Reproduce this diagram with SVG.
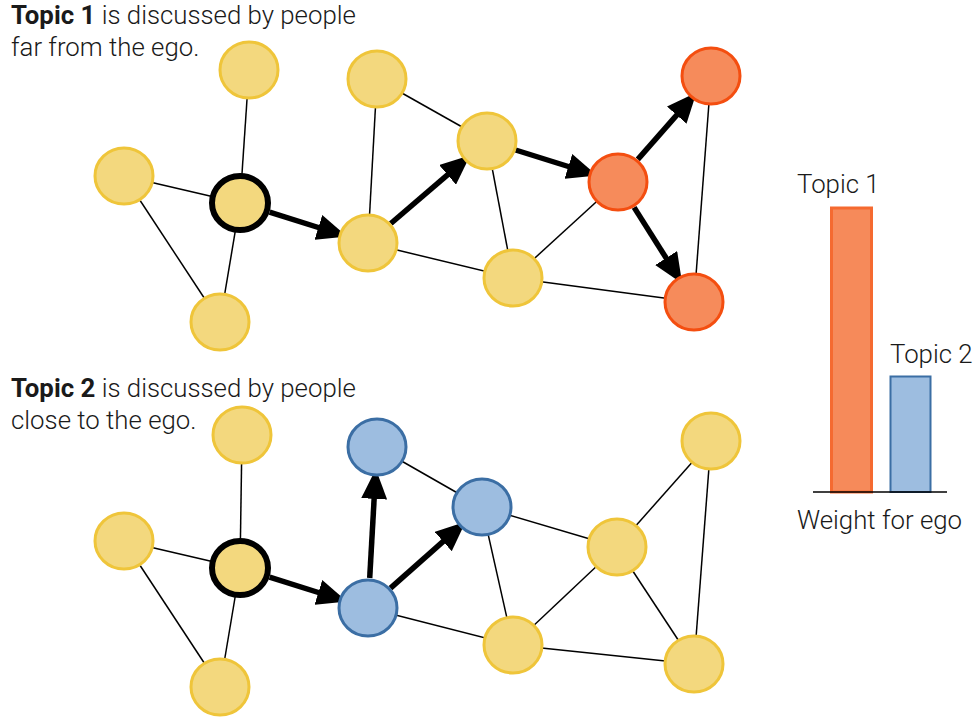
<svg xmlns="http://www.w3.org/2000/svg" width="978" height="719" viewBox="0 0 978 719">
<style>
.t{font-family:Roboto,"Liberation Sans",sans-serif;font-weight:300;font-size:25.8px;fill:#1a1a1a}
.b{font-weight:700}
.e{stroke:#000;stroke-width:1.5;fill:none}
.a{stroke:#000;stroke-width:5.5;fill:none;marker-end:url(#ah)}
.y{fill:#F3D87E;stroke:#EFC53A;stroke-width:3}
.o{fill:#F68B5B;stroke:#F44E10;stroke-width:3}
.u{fill:#9DBDE0;stroke:#3B6EA4;stroke-width:3}
.g{fill:#F3D87E;stroke:#000;stroke-width:6}
</style>
<defs>
<marker id="ah" markerWidth="32" markerHeight="26" refX="10" refY="13" orient="auto" markerUnits="userSpaceOnUse"><path d="M0,0 L30,13 L0,26 z" fill="#000"/></marker>
</defs>
<rect width="978" height="719" fill="#fff"/>
<g id="labels">
<text class="t" x="11" y="24"><tspan class="b">Topic 1</tspan> is discussed by people</text>
<text class="t" x="11" y="56">far from the ego.</text>
<text class="t" x="11" y="397"><tspan class="b">Topic 2</tspan> is discussed by people</text>
<text class="t" x="11" y="429">close to the ego.</text>
</g>
<g id="connectors">
<line class="e" x1="249" y1="70" x2="240" y2="203"/>
<line class="e" x1="124" y1="176" x2="240" y2="203"/>
<line class="e" x1="124" y1="176" x2="220" y2="322"/>
<line class="e" x1="240" y1="203" x2="220" y2="322"/>
<line class="e" x1="377" y1="79" x2="368" y2="243"/>
<line class="e" x1="377" y1="79" x2="487" y2="141"/>
<line class="e" x1="368" y1="243" x2="513" y2="278"/>
<line class="e" x1="487" y1="141" x2="513" y2="278"/>
<line class="e" x1="513" y1="278" x2="618" y2="182"/>
<line class="e" x1="513" y1="278" x2="694" y2="302"/>
<line class="e" x1="711" y1="76" x2="694" y2="302"/>
<line class="a" x1="269.6" y1="212.2" x2="327.9" y2="230.5"/>
<line class="a" x1="390.8" y1="223.5" x2="455.1" y2="168.3"/>
<line class="a" x1="515.6" y1="150" x2="577.9" y2="169.5"/>
<line class="a" x1="637.8" y1="159.4" x2="683.3" y2="107.6"/>
<line class="a" x1="634.1" y1="207.4" x2="671.5" y2="266.5"/>
<line class="e" x1="242" y1="435" x2="240" y2="568"/>
<line class="e" x1="124" y1="541" x2="240" y2="568"/>
<line class="e" x1="124" y1="541" x2="220" y2="687"/>
<line class="e" x1="240" y1="568" x2="220" y2="687"/>
<line class="e" x1="377" y1="447" x2="482" y2="507"/>
<line class="e" x1="368" y1="608" x2="513" y2="645"/>
<line class="e" x1="482" y1="507" x2="513" y2="645"/>
<line class="e" x1="482" y1="507" x2="617" y2="547"/>
<line class="e" x1="513" y1="645" x2="617" y2="547"/>
<line class="e" x1="513" y1="645" x2="694" y2="664"/>
<line class="e" x1="617" y1="547" x2="711" y2="441"/>
<line class="e" x1="617" y1="547" x2="694" y2="664"/>
<line class="e" x1="711" y1="441" x2="694" y2="664"/>
<line class="a" x1="269.6" y1="577.2" x2="327.9" y2="595.5"/>
<line class="a" x1="369.7" y1="578" x2="374.7" y2="488.9"/>
<line class="a" x1="390.5" y1="588.1" x2="450.6" y2="534.9"/>
</g>
<g id="n1A"><ellipse class="y" cx="249" cy="70" rx="29" ry="28"/></g>
<g id="n1B"><ellipse class="y" cx="124" cy="176" rx="29" ry="28"/></g>
<g id="n1ego"><ellipse class="g" cx="240" cy="203" rx="28" ry="27"/></g>
<g id="n1C"><ellipse class="y" cx="220" cy="322" rx="29" ry="28"/></g>
<g id="n1D"><ellipse class="y" cx="377" cy="79" rx="29" ry="28"/></g>
<g id="n1E"><ellipse class="y" cx="368" cy="243" rx="29" ry="28"/></g>
<g id="n1F"><ellipse class="y" cx="487" cy="141" rx="29" ry="28"/></g>
<g id="n1G"><ellipse class="y" cx="513" cy="278" rx="29" ry="28"/></g>
<g id="n1H"><ellipse class="o" cx="618" cy="182" rx="29" ry="28"/></g>
<g id="n1I"><ellipse class="o" cx="711" cy="76" rx="29" ry="28"/></g>
<g id="n1J"><ellipse class="o" cx="694" cy="302" rx="29" ry="28"/></g>
<g id="n2A"><ellipse class="y" cx="242" cy="435" rx="29" ry="28"/></g>
<g id="n2B"><ellipse class="y" cx="124" cy="541" rx="29" ry="28"/></g>
<g id="n2ego"><ellipse class="g" cx="240" cy="568" rx="28" ry="27"/></g>
<g id="n2C"><ellipse class="y" cx="220" cy="687" rx="29" ry="28"/></g>
<g id="n2D"><ellipse class="u" cx="377" cy="447" rx="29" ry="28"/></g>
<g id="n2E"><ellipse class="u" cx="368" cy="608" rx="29" ry="28"/></g>
<g id="n2F"><ellipse class="u" cx="482" cy="507" rx="29" ry="28"/></g>
<g id="n2G"><ellipse class="y" cx="513" cy="645" rx="29" ry="28"/></g>
<g id="n2H"><ellipse class="y" cx="617" cy="547" rx="29" ry="28"/></g>
<g id="n2I"><ellipse class="y" cx="711" cy="441" rx="29" ry="28"/></g>
<g id="n2J"><ellipse class="y" cx="694" cy="664" rx="29" ry="28"/></g>
<g id="chart">
<rect x="831.5" y="208" width="40" height="284" fill="#F68A5A" stroke="#F56A30" stroke-width="3"/>
<rect x="890.5" y="376.5" width="40" height="115.5" fill="#9DBDE0" stroke="#3B6EA4" stroke-width="2"/>
<line x1="813" y1="492" x2="947" y2="492" stroke="#000" stroke-width="1.5"/>
<text class="t" x="797" y="193">Topic 1</text>
<text class="t" x="890" y="363">Topic 2</text>
<text class="t" x="797" y="529">Weight for ego</text>
</g>
</svg>
